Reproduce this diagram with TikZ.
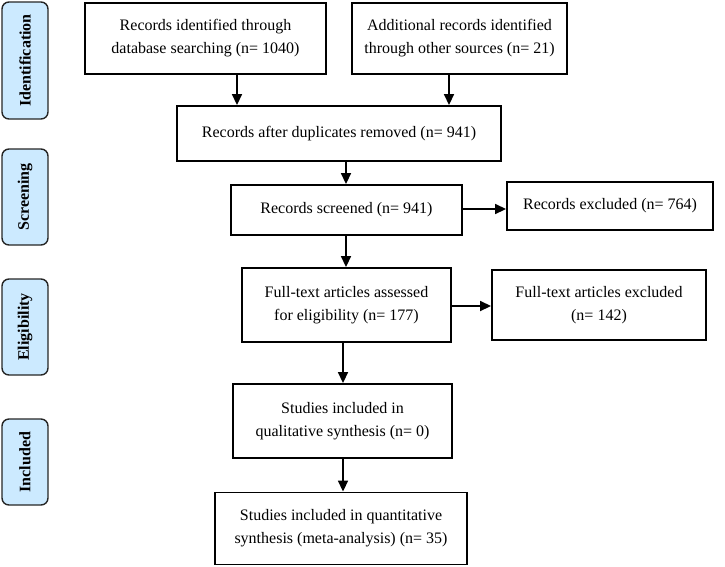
\documentclass[tikz,border=0pt]{standalone}
\usepackage{fontspec}
\setmainfont{Liberation Serif}
\usetikzlibrary{arrows.meta}
\definecolor{sidefill}{RGB}{204,234,255}
\begin{document}
\begin{tikzpicture}[x=1pt,y=-1pt,
  flowbox/.style={draw=black,line width=1.9pt,fill=white,inner sep=0pt,align=center,
    font=\fontsize{16}{23}\selectfont},
  sidebox/.style={draw=black!85,line width=1.4pt,fill=sidefill,rounded corners=7pt,inner sep=0pt,
    minimum width=46pt},
  sidetext/.style={rotate=90,font=\bfseries\fontsize{16}{18}\selectfont},
  arr/.style={line width=1.7pt,-{Triangle[length=11pt,width=10pt]}}]
\useasboundingbox (0,0) rectangle (725,566);
% side labels
\node[sidebox,minimum height=117pt] (sid) at (25,60.5) {};
\node[sidetext] at (sid) {Identification};
\node[sidebox,minimum height=96pt] (sscr) at (25,197) {};
\node[sidetext] at (sscr) {Screening};
\node[sidebox,minimum height=96pt] (selg) at (25,327) {};
\node[sidetext] at (selg) {Eligibility};
\node[sidebox,minimum height=86pt] (sinc) at (25,462) {};
\node[sidetext] at (sinc) {Included};
% flow boxes
\node[flowbox,minimum width=241pt,minimum height=71pt] (b1) at (205.5,38.5)
  {Records identified through\\database searching (n= 1040)};
\node[flowbox,minimum width=215pt,minimum height=71pt] (b2) at (459.5,38.5)
  {Additional records identified\\through other sources (n= 21)};
\node[flowbox,minimum width=324pt,minimum height=55pt] (b3) at (339,133.5)
  {Records after duplicates removed (n= 941)};
\node[flowbox,minimum width=231pt,minimum height=50pt] (b4) at (346.5,210)
  {Records screened (n= 941)};
\node[flowbox,minimum width=206pt,minimum height=48pt] (b4x) at (610,206)
  {Records excluded (n= 764)};
\node[flowbox,minimum width=209pt,minimum height=74pt] (b5) at (346.5,305)
  {Full-text articles assessed\\for eligibility (n= 177)};
\node[flowbox,minimum width=214pt,minimum height=70pt] (b5x) at (599,305)
  {Full-text articles excluded\\(n= 142)};
\node[flowbox,minimum width=219pt,minimum height=74pt] (b6) at (342.5,421)
  {Studies included in\\qualitative synthesis (n= 0)};
\node[flowbox,minimum width=252pt,minimum height=72pt] (b7) at (341,528.5)
  {Studies included in quantitative\\synthesis (meta-analysis) (n= 35)};
% connectors
\draw[arr] (b1.south -| 237,0) -- (b3.north -| 237,0);
\draw[arr] (b2.south -| 449,0) -- (b3.north -| 449,0);
\draw[arr] (b3.south -| 346,0) -- (b4.north -| 346,0);
\draw[arr] (b4.east |- 0,209) -- (b4x.west |- 0,209);
\draw[arr] (b4.south -| 346,0) -- (b5.north -| 346,0);
\draw[arr] (b5.east |- 0,306) -- (b5x.west |- 0,306);
\draw[arr] (b5.south -| 343,0) -- (b6.north -| 343,0);
\draw[arr] (b6.south -| 343,0) -- (b7.north -| 343,0);
\end{tikzpicture}
\end{document}
